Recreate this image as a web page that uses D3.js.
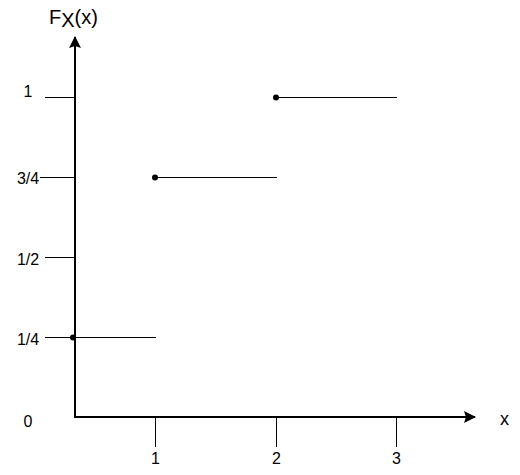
<!DOCTYPE html>
<html><head><meta charset="utf-8">
<script src="https://cdn.jsdelivr.net/npm/d3@7"></script>
<style>body{margin:0;background:#fff}svg{display:block}text{font-family:"Liberation Sans",Arial,sans-serif;fill:#000}</style>
</head><body>
<script>
// data
const xTickValues = [1, 2, 3];
const xTickLabels = ["1", "2", "3"];
const yTickValues = [0, 0.25, 0.5, 0.75, 1];
const yTickLabels = ["0", "1/4", "1/2", "3/4", "1"];
const stepStart = [0, 1, 2];
const stepEnd = [1, 2, 3];
const stepValue = [0.25, 0.75, 1];

const W = 520, H = 475;
const svg = d3.select("body").append("svg").attr("width", W).attr("height", H);

// hand-drawn piecewise axis
const x = d3.scaleLinear().domain([0, 1, 2, 3]).range([75, 155, 276, 396]);
const y = d3.scaleLinear().domain([0, 1]).range([417, 97]);

const x0 = x(0), y0 = y(0);

svg.append("defs").append("marker")
  .attr("id", "arr").attr("viewBox", "0 0 12 12").attr("refX", 11).attr("refY", 6)
  .attr("markerWidth", 12).attr("markerHeight", 12).attr("markerUnits", "userSpaceOnUse")
  .attr("orient", "auto")
  .append("path").attr("d", "M0,0 L12,6 L0,12 L2,6 Z").attr("fill", "#000");

// y tick marks (left of axis)
svg.append("g").selectAll("line").data(yTickValues.slice(1)).join("line")
  .attr("x1", d => x0 - (d === 0.75 ? 35 : 30)).attr("x2", x0).attr("y1", d => y(d) + 0.5).attr("y2", d => y(d) + 0.5)
  .attr("stroke", "#000").attr("stroke-width", 1);

// x tick marks (below axis)
svg.append("g").selectAll("line").data(xTickValues).join("line")
  .attr("x1", d => x(d) + 0.5).attr("x2", d => x(d) + 0.5).attr("y1", y0).attr("y2", y0 + 30)
  .attr("stroke", "#000").attr("stroke-width", 1);

// axes
svg.append("line").attr("x1", x0).attr("y1", y0 + 1).attr("x2", x0).attr("y2", 37)
  .attr("stroke", "#000").attr("stroke-width", 2).attr("marker-end", "url(#arr)");
svg.append("line").attr("x1", x0 - 1).attr("y1", y0).attr("x2", 475).attr("y2", y0)
  .attr("stroke", "#000").attr("stroke-width", 2).attr("marker-end", "url(#arr)");

// y tick labels
const yLabelOffset = [4, 2, 2, 1, -6];
svg.append("g").selectAll("text").data(yTickValues).join("text")
  .attr("x", 28).attr("y", (d, i) => y(d) + yLabelOffset[i] + 6)
  .attr("text-anchor", "middle").attr("font-size", 16)
  .text((d, i) => yTickLabels[i]);

// x tick labels
svg.append("g").selectAll("text").data(xTickValues).join("text")
  .attr("x", d => x(d) + 0.5).attr("y", y0 + 47)
  .attr("text-anchor", "middle").attr("font-size", 16)
  .text((d, i) => xTickLabels[i]);

// step segments
const steps = stepStart.map((s, i) => ({s, e: stepEnd[i], v: stepValue[i]}));
svg.append("g").selectAll("line").data(steps).join("line")
  .attr("x1", d => x(d.s)).attr("x2", d => x(d.e) + 1)
  .attr("y1", d => y(d.v) + 0.5).attr("y2", d => y(d.v) + 0.5)
  .attr("stroke", "#000").attr("stroke-width", 1.2);
svg.append("g").selectAll("circle").data(steps).join("circle")
  .attr("cx", d => x(d.s) - (d.s === 0 ? 2 : 0)).attr("cy", d => y(d.v) + 0.5)
  .attr("r", 3).attr("fill", "#000");

// title
const t = svg.append("text").attr("x", 49).attr("y", 24).attr("font-size", 20);
t.append("tspan").text("F");
t.append("tspan").attr("dy", 3).text("X");
t.append("tspan").attr("dy", -3).text("(x)");

// x axis label
svg.append("text").attr("x", 500).attr("y", 425).attr("font-size", 18).text("x");
</script>
</body></html>
